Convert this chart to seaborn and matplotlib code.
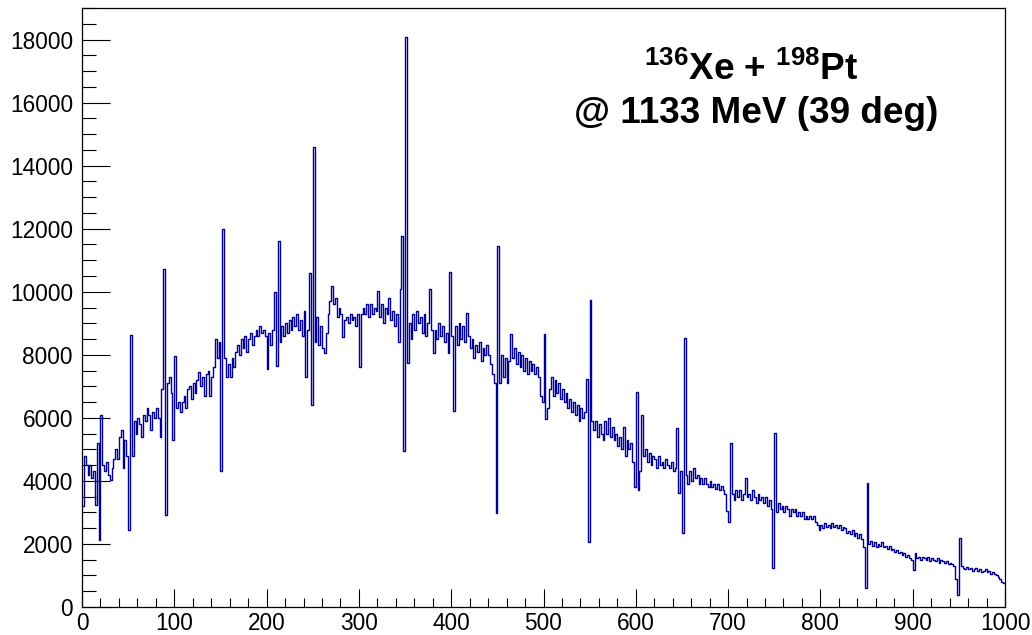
import numpy as np
import pandas as pd
import matplotlib
matplotlib.use("Agg")
import matplotlib.pyplot as plt
import seaborn as sns
from matplotlib.ticker import MultipleLocator

sns.set_style("white")
plt.rcParams['font.family'] = ['Liberation Sans', 'DejaVu Sans']
plt.rcParams['mathtext.default'] = 'regular'
plt.rcParams['text.color'] = 'black'
plt.rcParams['xtick.color'] = 'black'
plt.rcParams['ytick.color'] = 'black'
plt.rcParams['axes.labelcolor'] = 'black'

# ---- data: counts per 2-unit bin ----
X_MIN, X_MAX, BIN_W = 0, 1000, 2

counts_000 = [3200, 4800, 4500, 4200, 4500, 4100, 4300, 3240, 5200, 2130,
              6100, 4500, 4300, 4600, 4200, 4040, 4400, 4700, 5000, 4700,
              5400, 5600, 4400, 5300, 4800,
              2450, 8620, 4800, 5900, 5500, 6000, 5800, 5400, 6100, 5900,
              6300, 6100, 5600, 6200, 6000, 6300, 6000, 5400, 6900, 10720,
              2930, 7100, 7300, 6800, 5300]
counts_100 = [7950, 6300, 6500, 6200, 6500, 6700, 6300, 6900, 7000, 6600,
              7100, 6800, 7200, 7450, 7000, 7300, 6700, 7400, 7500, 6700,
              7300, 7600, 8500, 7900, 8400,
              4300, 11990, 7900, 7300, 7700, 7300, 7900, 7600, 8100, 8300,
              8000, 8500, 8200, 8600, 8100, 8500, 8700, 8300, 8600, 8800,
              8600, 8900, 8700, 8800, 8600]
counts_200 = [7550, 8700, 8300, 8800, 10000, 7640, 11600, 8400, 8900, 8600,
              9000, 8700, 9100, 8800, 9200, 8900, 9300, 8800, 9100, 8600,
              9400, 7300, 8800, 10600, 6420,
              14600, 8400, 9200, 8300, 8900, 8200, 8070, 8700, 9300, 9700,
              10190, 9600, 9800, 9200, 9500, 9300, 8550, 9100, 9200, 9000,
              9300, 9100, 9200, 8900, 9300]
counts_300 = [7600, 9300, 9500, 9300, 9600, 9200, 9600, 9300, 9500, 9400,
              10030, 9200, 9600, 9000, 9500, 9300, 9800, 9100, 9400, 8900,
              9300, 8400, 10080, 11780, 4940,
              18090, 7750, 9000, 8500, 9300, 8800, 9400, 9000, 9200, 8700,
              9300, 8600, 9000, 10080, 8800, 8070, 8800, 8500, 9000, 8600,
              8900, 8400, 8700, 8070, 10620]
counts_400 = [8600, 6210, 8900, 8300, 9000, 8500, 8900, 8400, 9340, 8600,
              8200, 8500, 7900, 8300, 8100, 8400, 7800, 8200, 8000, 8300,
              8000, 7700, 7400, 7100, 2980,
              11440, 7100, 8000, 7300, 7900, 7100, 7800, 8650, 7900, 8200,
              7700, 8100, 7600, 8000, 7500, 7900, 7400, 7800, 7500, 7700,
              7400, 7600, 7300, 6700, 6500]
counts_500 = [8650, 5950, 6300, 6900, 7300, 6700, 7200, 6800, 7100, 6600,
              6900, 6500, 6800, 6300, 6600, 6200, 6500, 6100, 6400, 5900,
              6300, 6000, 6200, 7220, 2070,
              9740, 5900, 5600, 5900, 5400, 5800, 5500, 5300, 5900, 5500,
              6000, 5400, 5700, 5300, 5500, 5100, 5400, 5000, 5700, 4800,
              5300, 5000, 5200, 4600, 3800]
counts_600 = [6820, 3720, 4300, 6100, 4800, 5000, 4600, 4900, 4500, 4800,
              4700, 4400, 4800, 4500, 4600, 4400, 4700, 4500, 4400, 4600,
              4300, 4400, 5690, 3620, 4300,
              2350, 8520, 4200, 3900, 4300, 4000, 4400, 4100, 4200, 3900,
              4100, 3900, 4100, 3900, 3800, 4000, 3800, 3900, 3750, 3900,
              3700, 3850, 3700, 3600, 3030]
counts_700 = [2710, 5200, 3600, 3400, 3700, 3500, 3700, 3400, 3600, 4100,
              3500, 3600, 3400, 3700, 3500, 3300, 3600, 3400, 3500, 3300,
              3500, 3200, 3400, 3100, 1230,
              5530, 3000, 3300, 3100, 3200, 3000, 3200, 3100, 2900, 3100,
              3000, 3100, 2900, 3000, 2900, 3000, 2800, 2900, 2800, 2900,
              2800, 2900, 2700, 2600, 2450]
counts_800 = [2600, 2500, 2650, 2550, 2600, 2500, 2650, 2550, 2600, 2500,
              2600, 2450, 2550, 2500, 2350, 2400, 2300, 2450, 2250, 2350,
              2200, 2300, 2150, 1900, 600,
              3930, 2000, 2100, 1950, 2050, 1900, 2000, 1950, 2050, 1900,
              1950, 1850, 1950, 1800, 1850, 1750, 1800, 1700, 1750, 1650,
              1700, 1600, 1650, 1550, 1500]
counts_900 = [1180, 1700, 1550, 1600, 1500, 1600, 1550, 1500, 1600, 1450,
              1550, 1500, 1450, 1550, 1400, 1500, 1450, 1400, 1450, 1350,
              1400, 1350, 1300, 900, 380,
              2190, 1300, 1250, 1200, 1280, 1200, 1250, 1150, 1200, 1250,
              1150, 1200, 1100, 1150, 1200, 1100, 1150, 1050, 1100, 1050,
              1000, 950, 900, 800, 750]

title_line1 = r"$^{136}$Xe + $^{198}$Pt"
title_line2 = "@ 1133 MeV (39 deg)"

counts = np.concatenate([counts_000, counts_100, counts_200, counts_300,
                         counts_400, counts_500, counts_600, counts_700,
                         counts_800, counts_900]).astype(float)
n_bins = len(counts)
centers = X_MIN + BIN_W * (np.arange(n_bins) + 0.5)
df = pd.DataFrame({"x": centers, "w": counts})

# ---- figure ----
fig = plt.figure(figsize=(10.32, 6.35), dpi=100)
ax = fig.add_axes([82 / 1032, 1 - 607 / 635, (1005 - 82) / 1032, (607 - 8) / 635])

sns.histplot(data=df, x="x", weights="w", binwidth=BIN_W,
             binrange=(X_MIN, X_MAX), element="step",
             fill=False, color="#000099", alpha=1.0, linewidth=1.0, ax=ax)

ax.set_xlim(X_MIN, X_MAX)
ax.set_ylim(0, 19000)
ax.set_xlabel("")
ax.set_ylabel("")

ax.xaxis.set_major_locator(MultipleLocator(100))
ax.xaxis.set_minor_locator(MultipleLocator(20))
ax.yaxis.set_major_locator(MultipleLocator(2000))
ax.yaxis.set_minor_locator(MultipleLocator(500))

ax.tick_params(axis="x", which="major", direction="in", length=13, width=0.8,
               labelsize=16.3, pad=3.5, color="black", labelcolor="black",
               bottom=True, top=False)
ax.tick_params(axis="x", which="minor", direction="in", length=6.5, width=0.8,
               color="black", bottom=True, top=False)
ax.tick_params(axis="y", which="major", direction="in", length=20, width=0.8,
               labelsize=16.3, pad=6.5, color="black", labelcolor="black",
               left=True, right=False)
ax.tick_params(axis="y", which="minor", direction="in", length=10, width=0.8,
               color="black", left=True, right=False)

for s in ax.spines.values():
    s.set_visible(True)
    s.set_color("black")
    s.set_linewidth(0.9)

fig.text(751 / 1032, 1 - 80 / 635, title_line1, ha="center", va="baseline",
         fontsize=26.6, fontweight="bold", color="black")
fig.text(756.5 / 1032, 1 - 123 / 635, title_line2, ha="center", va="baseline",
         fontsize=26.6, fontweight="bold", color="black")

fig.savefig("out.png", dpi=100)
